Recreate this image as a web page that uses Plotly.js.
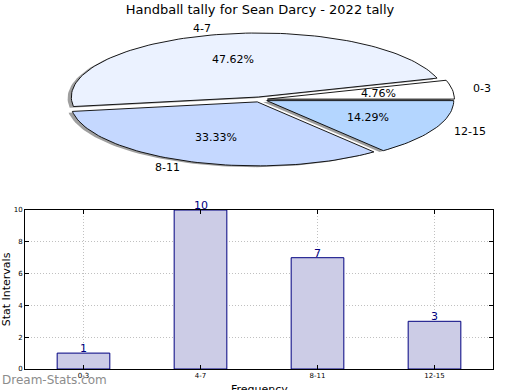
<!DOCTYPE html>
<html><head><meta charset="utf-8">
<script src="https://cdn.plot.ly/plotly-3.0.1.min.js"></script>
<style>html,body{margin:0;padding:0;background:#fff}</style>
</head><body><div id="chart" style="width:520px;height:390px"></div>
<script>
// ---- data ----
const titleText = 'Handball tally for Sean Darcy - 2022 tally';
const categories = ['0-3', '4-7', '8-11', '12-15'];
const counts = [1, 10, 7, 3];
const sliceColors = ['#ffffff', '#ebf2ff', '#c5d8ff', '#b4d6ff'];
const yTicks = [0, 2, 4, 6, 8, 10];

// ---- pie geometry (pixel space on hidden axes) ----
const FONT = 'DejaVu Sans, sans-serif';
const cx = 260, cy = 99.5, rx = 187, ry = 64, explode = 0.04;
const total = counts.reduce((a, b) => a + b, 0);
const traces = [];
const shadowTraces = [];
const annotations = [];
let start = 0;
counts.forEach((v, i) => {
  const frac = v / total;
  const t1 = start * 2 * Math.PI, t2 = (start + frac) * 2 * Math.PI;
  const tm = (t1 + t2) / 2;
  const ox = cx + explode * rx * Math.cos(tm);
  const oy = cy - explode * ry * Math.sin(tm);
  const xs = [ox], ys = [oy];
  const n = Math.max(8, Math.ceil(frac * 200));
  for (let k = 0; k <= n; k++) {
    const t = t1 + (t2 - t1) * k / n;
    xs.push(ox + rx * Math.cos(t));
    ys.push(oy - ry * Math.sin(t));
  }
  xs.push(ox); ys.push(oy);
  shadowTraces.push({
    type: 'scatter', mode: 'lines', xaxis: 'x2', yaxis: 'y2',
    x: xs.map(p => p - 0.02 * rx), y: ys.map(p => p + 0.02 * ry),
    fill: 'toself', fillcolor: 'rgba(80,80,80,0.55)', line: {width: 0},
    hoverinfo: 'skip', showlegend: false
  });
  traces.push({
    type: 'scatter', mode: 'lines', xaxis: 'x2', yaxis: 'y2',
    x: xs, y: ys, fill: 'toself', fillcolor: sliceColors[i],
    line: {color: '#000000', width: 0.9},
    hoverinfo: 'skip', showlegend: false
  });
  // category label
  const lx = ox + 1.1 * rx * Math.cos(tm);
  const ly = oy - 1.1 * ry * Math.sin(tm);
  annotations.push({
    xref: 'x2', yref: 'y2', x: lx, y: ly, text: categories[i], showarrow: false,
    xanchor: Math.cos(tm) < 0 ? 'right' : 'left', yanchor: 'middle',
    font: {family: FONT, size: 11, color: '#000'}
  });
  // percent label
  annotations.push({
    xref: 'x2', yref: 'y2', x: ox + 0.6 * rx * Math.cos(tm), y: oy - 0.6 * ry * Math.sin(tm),
    text: (frac * 100).toFixed(2) + '%', showarrow: false,
    xanchor: 'center', yanchor: 'middle',
    font: {family: FONT, size: 11, color: '#000'}
  });
  start += frac;
});

// ---- bar chart ----
const barTrace = {
  type: 'bar', x: categories, y: counts, width: 0.45,
  marker: {color: '#ccccE6', line: {color: '#000080', width: 1}},
  hoverinfo: 'skip', showlegend: false
};
counts.forEach((v, i) => {
  annotations.push({
    xref: 'x', yref: 'y', x: categories[i], y: v, text: String(v), showarrow: false,
    xanchor: 'center', yanchor: 'bottom', yshift: -4,
    font: {family: FONT, size: 11, color: '#000080'}
  });
});
annotations.push({
  xref: 'paper', yref: 'paper', x: 0, y: 1 - 380 / 390, xanchor: 'left', yanchor: 'middle',
  text: 'Dream-Stats.com', showarrow: false,
  font: {family: FONT, size: 12, color: '#8c8c8c'}
});
annotations.push({
  xref: 'paper', yref: 'paper', x: 259 / 520, y: 1 - 389 / 390, xanchor: 'center', yanchor: 'middle',
  text: 'Frequency', showarrow: false,
  font: {family: FONT, size: 11, color: '#000'}
});

const layout = {
  width: 520, height: 390,
  margin: {l: 0, r: 0, t: 0, b: 0},
  paper_bgcolor: '#ffffff', plot_bgcolor: 'rgba(0,0,0,0)',
  font: {family: FONT},
  title: {text: titleText, font: {family: FONT, size: 13, color: '#000'}, x: 0.5, xanchor: 'center', y: 0.975, yanchor: 'middle'},
  showlegend: false,
  xaxis2: {domain: [0, 1], range: [0, 520], visible: false, fixedrange: true, anchor: 'y2'},
  yaxis2: {domain: [0.55, 1], range: [175.5, 0], visible: false, fixedrange: true, anchor: 'x2'},
  xaxis: {
    domain: [25 / 520, 493 / 520], anchor: 'y', type: 'category', range: [-0.5, 3.5],
    showline: true, linecolor: '#000', linewidth: 1, mirror: 'ticks',
    ticks: 'inside', ticklen: 4, tickcolor: '#000',
    showgrid: true, gridcolor: '#c0c0c0', griddash: '1px,2px', gridwidth: 1,
    tickfont: {family: FONT, size: 7, color: '#000'},
    zeroline: false
  },
  yaxis: {
    domain: [21 / 390, 180 / 390], anchor: 'x', range: [0, 10], tickvals: yTicks,
    showline: true, linecolor: '#000', linewidth: 1, mirror: 'ticks',
    ticks: 'inside', ticklen: 4, tickcolor: '#000',
    showgrid: true, gridcolor: '#c0c0c0', griddash: '1px,2px', gridwidth: 1,
    tickfont: {family: FONT, size: 7, color: '#000'},
    title: {text: 'Stat Intervals', font: {family: FONT, size: 11, color: '#000'}, standoff: 4},
    zeroline: false
  },
  annotations: annotations
};

Plotly.newPlot('chart', [barTrace, ...shadowTraces, ...traces], layout, {staticPlot: true, displayModeBar: false});
</script></body></html>
